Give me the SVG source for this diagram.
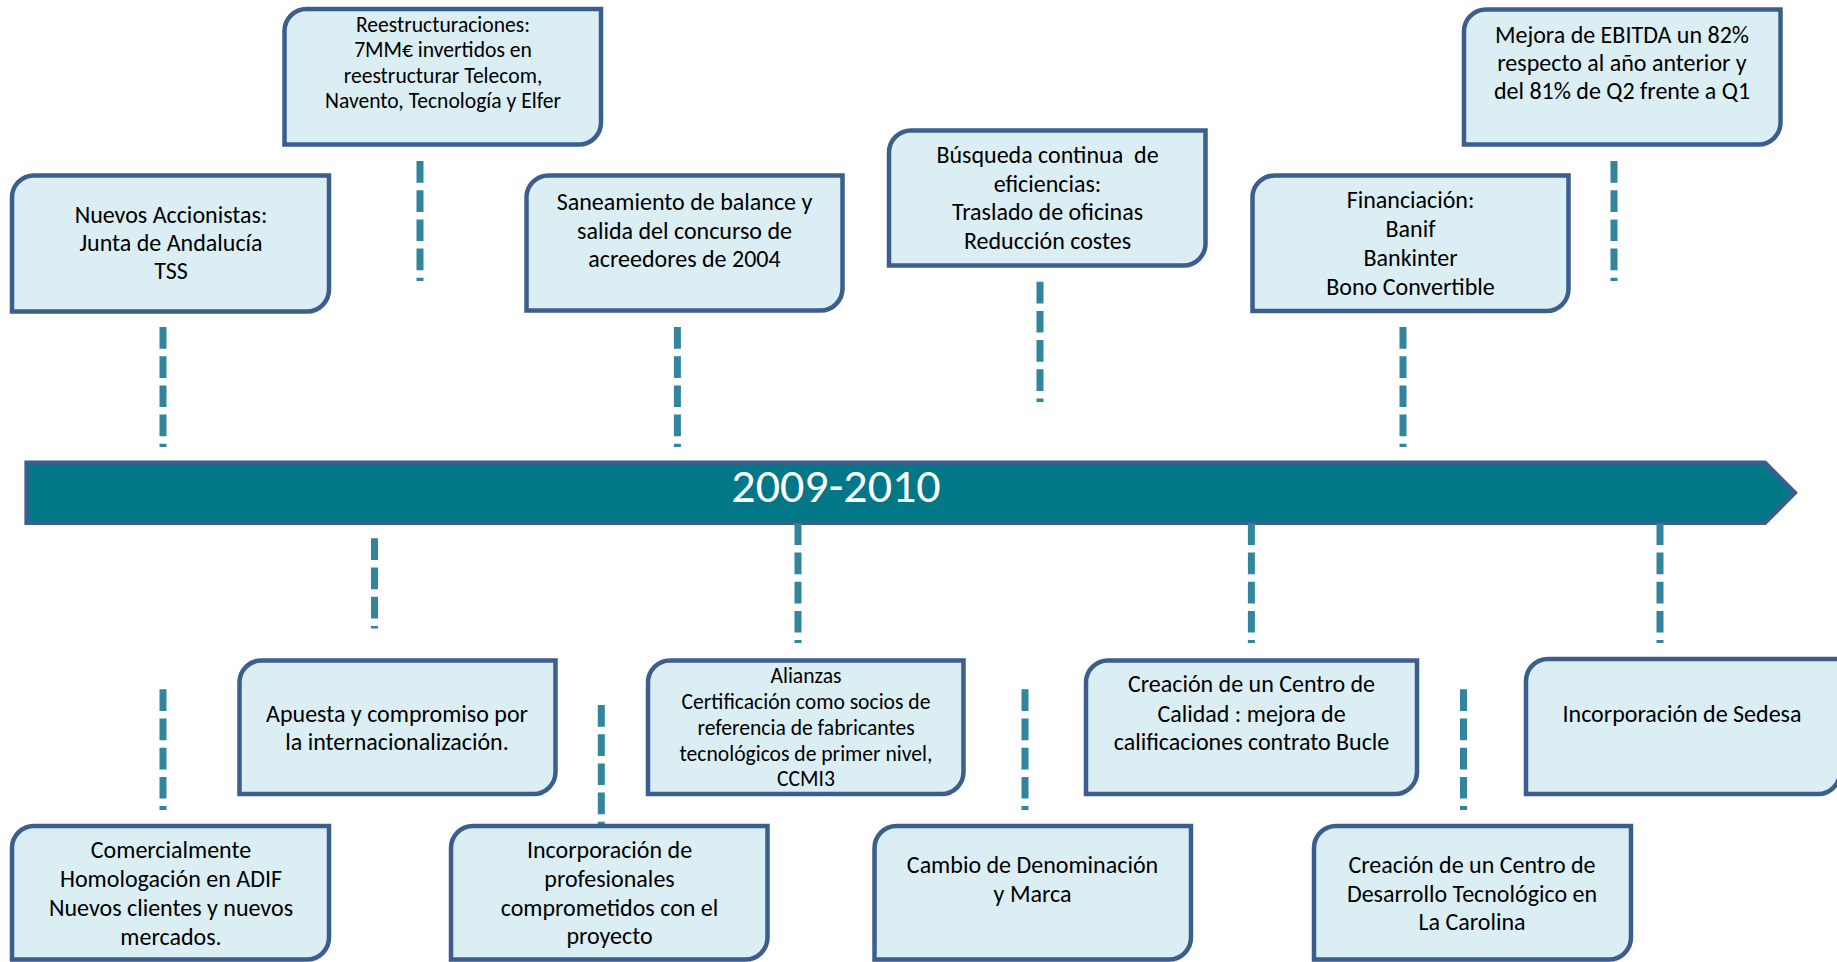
<svg xmlns="http://www.w3.org/2000/svg" width="1837" height="962" viewBox="0 0 1837 962">
<style>
.box{fill:#DBEEF4;stroke:#3B5E8C;stroke-width:4.5;stroke-linejoin:miter}
.t{font-family:Carlito,Lato,"Liberation Sans",sans-serif;font-size:24px;fill:#000000;text-anchor:middle}
.s{font-size:21.6px}
.pre{white-space:pre}
.c{fill:none;stroke:#31859C;stroke-width:7;stroke-dasharray:21.7 7.5}
.title{font-family:Carlito,Lato,"Liberation Sans",sans-serif;font-size:48px;fill:#ffffff;text-anchor:middle}
</style>
<rect width="1837" height="962" fill="#ffffff"/>
<g id="timeline">
<path d="M26.5,462.7 H1765 L1795,492.8 L1765,523 H26.5 Z" fill="#017787" stroke="#3B5E8C" stroke-width="4.2"/>
<text class="title" x="836" y="502">2009-2010</text>
</g>
<g id="connectors">
<line class="c" x1="163" y1="327" x2="163" y2="447"/>
<line class="c" x1="420" y1="161" x2="420" y2="281"/>
<line class="c" x1="677.4" y1="327" x2="677.4" y2="447"/>
<line class="c" x1="1040" y1="281.7" x2="1040" y2="402"/>
<line class="c" x1="1403" y1="327" x2="1403" y2="447"/>
<line class="c" x1="1614" y1="161" x2="1614" y2="281"/>
<line class="c" x1="374.5" y1="538.3" x2="374.5" y2="628.5"/>
<line class="c" x1="798" y1="523.3" x2="798" y2="643"/>
<line class="c" x1="1251.4" y1="523.3" x2="1251.4" y2="643"/>
<line class="c" x1="1660" y1="523.3" x2="1660" y2="643"/>
<line class="c" x1="163" y1="689.3" x2="163" y2="810"/>
<line class="c" x1="601.3" y1="705" x2="601.3" y2="825.5"/>
<line class="c" x1="1025" y1="689.3" x2="1025" y2="810"/>
<line class="c" x1="1463.5" y1="689.3" x2="1463.5" y2="810"/>
</g>
<g id="n-nuevos">
<path class="box" d="M34,175.5 H329 V289.5 A22,22 0 0 1 307,311.5 H12 V197.5 A22,22 0 0 1 34,175.5 Z"/>
<text class="t"><tspan x="171" y="222.7">Nuevos Accionistas:</tspan><tspan x="171" y="251">Junta de Andalucía</tspan><tspan x="171" y="279.3">TSS</tspan></text>
</g>
<g id="n-reestructuraciones">
<path class="box" d="M306.5,9 H601 V122.5 A22,22 0 0 1 579,144.5 H284.5 V31 A22,22 0 0 1 306.5,9 Z"/>
<text class="t s"><tspan x="443" y="31.5">Reestructuraciones:</tspan><tspan x="443" y="57">7MM€ invertidos en</tspan><tspan x="443" y="82.7">reestructurar Telecom,</tspan><tspan x="443" y="108.3">Navento, Tecnología y Elfer</tspan></text>
</g>
<g id="n-saneamiento">
<path class="box" d="M548.5,175.5 H842.5 V288.5 A22,22 0 0 1 820.5,310.5 H526.5 V197.5 A22,22 0 0 1 548.5,175.5 Z"/>
<text class="t"><tspan x="684.5" y="210.3">Saneamiento de balance y</tspan><tspan x="684.5" y="239">salida del concurso de</tspan><tspan x="684.5" y="267.3">acreedores de 2004</tspan></text>
</g>
<g id="n-busqueda">
<path class="box" d="M911,130.5 H1205.5 V243.5 A22,22 0 0 1 1183.5,265.5 H889 V152.5 A22,22 0 0 1 911,130.5 Z"/>
<text class="t pre"><tspan x="1047.5" y="163.3">Búsqueda continua  de</tspan><tspan x="1047.5" y="191.7">eficiencias:</tspan><tspan x="1047.5" y="220.3">Traslado de oficinas</tspan><tspan x="1047.5" y="249">Reducción costes</tspan></text>
</g>
<g id="n-financiacion">
<path class="box" d="M1274.5,175.5 H1568.5 V289 A22,22 0 0 1 1546.5,311 H1252.5 V197.5 A22,22 0 0 1 1274.5,175.5 Z"/>
<text class="t"><tspan x="1410.5" y="208.3">Financiación:</tspan><tspan x="1410.5" y="237">Banif</tspan><tspan x="1410.5" y="266">Bankinter</tspan><tspan x="1410.5" y="295">Bono Convertible</tspan></text>
</g>
<g id="n-ebitda">
<path class="box" d="M1486,9.5 H1780.5 V122.5 A22,22 0 0 1 1758.5,144.5 H1464 V31.5 A22,22 0 0 1 1486,9.5 Z"/>
<text class="t"><tspan x="1622" y="42.7">Mejora de EBITDA un 82%</tspan><tspan x="1622" y="71">respecto al año anterior y</tspan><tspan x="1622" y="99.3">del 81% de Q2 frente a Q1</tspan></text>
</g>
<g id="n-apuesta">
<path class="box" d="M261.5,660.5 H555.5 V772 A22,22 0 0 1 533.5,794 H239.5 V682.5 A22,22 0 0 1 261.5,660.5 Z"/>
<text class="t"><tspan x="397" y="721.7">Apuesta y compromiso por</tspan><tspan x="397" y="750">la internacionalización.</tspan></text>
</g>
<g id="n-comercialmente">
<path class="box" d="M34,826 H329 V937.5 A22,22 0 0 1 307,959.5 H12 V848 A22,22 0 0 1 34,826 Z"/>
<text class="t"><tspan x="171" y="858.3">Comercialmente</tspan><tspan x="171" y="886.7">Homologación en ADIF</tspan><tspan x="171" y="916">Nuevos clientes y nuevos</tspan><tspan x="171" y="945">mercados.</tspan></text>
</g>
<g id="n-incorporacion">
<path class="box" d="M473,826 H767.5 V937.5 A22,22 0 0 1 745.5,959.5 H451 V848 A22,22 0 0 1 473,826 Z"/>
<text class="t"><tspan x="609.5" y="858.3">Incorporación de</tspan><tspan x="609.5" y="887">profesionales</tspan><tspan x="609.5" y="915.5">comprometidos con el</tspan><tspan x="609.5" y="944">proyecto</tspan></text>
</g>
<g id="n-alianzas">
<path class="box" d="M670,660.5 H963.5 V772 A22,22 0 0 1 941.5,794 H648 V682.5 A22,22 0 0 1 670,660.5 Z"/>
<text class="t s"><tspan x="806" y="683.3">Alianzas</tspan><tspan x="806" y="709.3">Certificación como socios de</tspan><tspan x="806" y="735">referencia de fabricantes</tspan><tspan x="806" y="760.7">tecnológicos de primer nivel,</tspan><tspan x="806" y="786">CCMI3</tspan></text>
</g>
<g id="n-cambio">
<path class="box" d="M896.5,826 H1191 V937.5 A22,22 0 0 1 1169,959.5 H874.5 V848 A22,22 0 0 1 896.5,826 Z"/>
<text class="t"><tspan x="1032.5" y="872.7">Cambio de Denominación</tspan><tspan x="1032.5" y="901.7">y Marca</tspan></text>
</g>
<g id="n-calidad">
<path class="box" d="M1108,660.5 H1417 V772 A22,22 0 0 1 1395,794 H1086 V682.5 A22,22 0 0 1 1108,660.5 Z"/>
<text class="t"><tspan x="1251.5" y="692.3">Creación de un Centro de</tspan><tspan x="1251.5" y="721.7">Calidad : mejora de</tspan><tspan x="1251.5" y="750">calificaciones contrato Bucle</tspan></text>
</g>
<g id="n-desarrollo">
<path class="box" d="M1336,826 H1631 V937.5 A22,22 0 0 1 1609,959.5 H1314 V848 A22,22 0 0 1 1336,826 Z"/>
<text class="t"><tspan x="1472" y="872.7">Creación de un Centro de</tspan><tspan x="1472" y="901.7">Desarrollo Tecnológico en</tspan><tspan x="1472" y="930">La Carolina</tspan></text>
</g>
<g id="n-sedesa">
<path class="box" d="M1548,659 H1840 V772 A22,22 0 0 1 1818,794 H1526 V681 A22,22 0 0 1 1548,659 Z"/>
<text class="t"><tspan x="1682" y="721.7">Incorporación de Sedesa</tspan></text>
</g>
</svg>
